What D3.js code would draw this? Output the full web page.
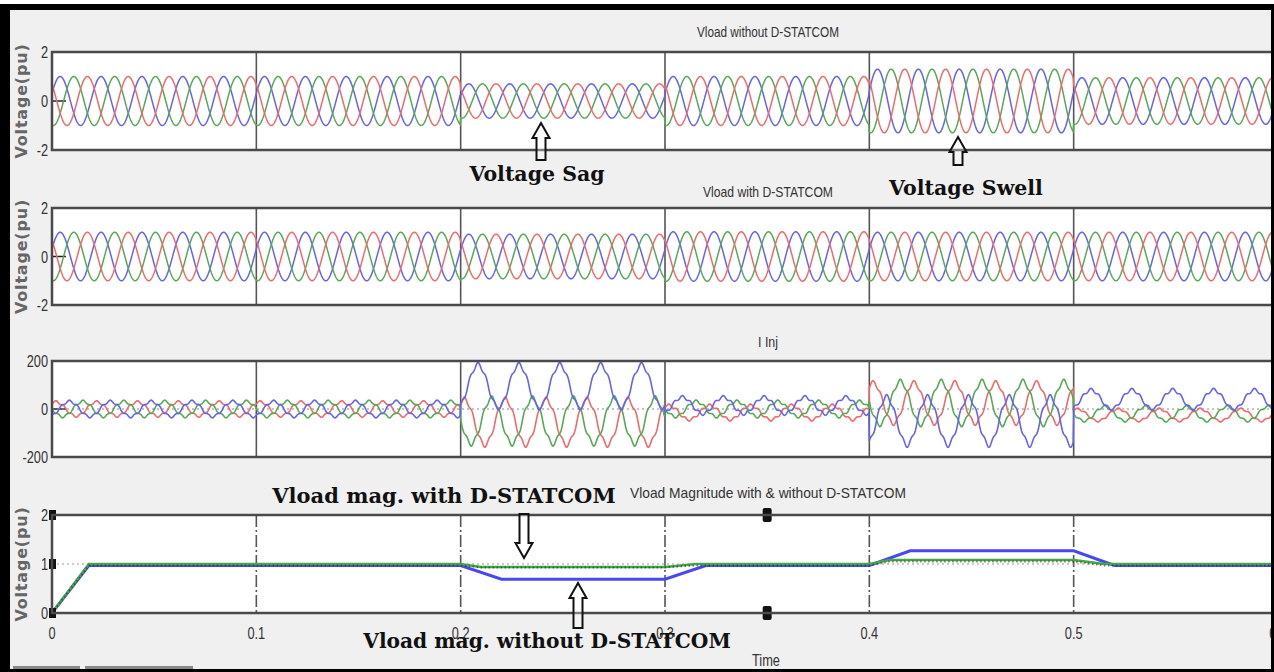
<!DOCTYPE html>
<html>
<head>
<meta charset="utf-8">
<script src="https://cdn.jsdelivr.net/npm/d3@7"></script>
<style>
body { margin: 0; background: #fff; }
.narrow { font-family: "Liberation Sans", sans-serif; fill: #333; }
.note { font-family: "DejaVu Serif", serif; font-weight: bold; fill: #111; }
.ylab { font-family: "DejaVu Sans", sans-serif; font-weight: bold; fill: #666; }
</style>
</head>
<body>
<div id="chart-area"></div>
<script>
// ---- data ----
var timeTicks = [0, 0.1, 0.2, 0.3, 0.4, 0.5, 0.6];
var timeTickLabels = ["0", "0.1", "0.2", "0.3", "0.4", "0.5", "0.6"];
var voltTicks = [-2, 0, 2];
var curTicks = [-200, 0, 200];
var magTicks = [0, 1, 2];
var titles = ["Vload without D-STATCOM", "Vload with D-STATCOM", "I Inj", "Vload Magnitude with & without D-STATCOM"];

// three phase load voltage, peak value per 0.1 s segment (pu)
var segStart = [0, 0.1, 0.2, 0.3, 0.4, 0.5];
var ampWithout = [1.0, 1.0, 0.7, 1.0, 1.3, 0.95];
var ampWith = [1.0, 1.0, 0.92, 1.02, 1.0, 1.0];
var freq = 50;            // Hz
var voltPeakTime = 0.004; // first peak of the blue phase (s)

// injected current per segment (A): mean and peak of each phase
var iStart = [0, 0.2, 0.3, 0.4, 0.5];
var iMeanBlue = [0, 95, 15, -50, 40];
var iMeanGreen = [0, -50, 0, 25, -20];
var iMeanRed = [0, -55, -15, 25, -25];
var iAmpBlue = [32, 90, 35, 100, 40];
var iAmpGreen = [32, 95, 32, 90, 30];
var iAmpRed = [30, 95, 30, 85, 25];
var iRipple = [0.15, 0.1, 0.18, 0.1, 0.15];
var curPeakTime = 0.0085;

// rms magnitude (pu)
var magTime = [0, 0.018, 0.2, 0.22, 0.3, 0.32, 0.4, 0.42, 0.5, 0.52, 0.6];
var magWithout = [0, 0.97, 0.97, 0.69, 0.69, 0.97, 0.97, 1.27, 1.27, 0.97, 0.97];
var magWithTime = [0, 0.018, 0.2, 0.21, 0.3, 0.315, 0.4, 0.41, 0.5, 0.515, 0.6];
var magWith = [0, 1.0, 1.0, 0.94, 0.94, 1.0, 1.0, 1.08, 1.08, 1.0, 1.0];
var magRef = [0, 0.97, 0.97, 0.93, 0.93, 0.97, 0.97, 1.05, 1.05, 0.97, 0.97];

var notes = ["Voltage Sag", "Voltage Swell", "Vload mag. with D-STATCOM", "Vload mag. without D-STATCOM"];

// ---- layout ----
var width = 1274, height = 672;
var left = 52, right = 1278;
var colors = { blue: "#6464f0", green: "#55aa55", red: "#f06a6a" };

var svg = d3.select("#chart-area").append("svg")
	.attr("width", width)
	.attr("height", height);

svg.append("rect").attr("width", width).attr("height", height).attr("fill", "#f0f0f0");

var x = d3.scaleLinear().domain([0, 0.6]).range([left, right]);

// squeeze a text horizontally so it looks like the scope's condensed font
function squeeze(sel, k) {
	sel.each(function() {
		var len = this.getComputedTextLength();
		d3.select(this).attr("textLength", len * k).attr("lengthAdjust", "spacingAndGlyphs");
	});
}

var panels = [
	{ top: 52, bottom: 150, domain: [-2, 2], ticks: voltTicks, titleY: 37, titleW: 142, ylab: true },
	{ top: 208, bottom: 305, domain: [-2, 2], ticks: voltTicks, titleY: 197, titleW: 130, ylab: true },
	{ top: 361, bottom: 457, domain: [-200, 200], ticks: curTicks, titleY: 347, titleW: 20, ylab: false },
	{ top: 515, bottom: 613, domain: [0, 2], ticks: magTicks, titleY: 498, titleW: 276, ylab: true }
];

panels.forEach(function(p, i) {
	p.y = d3.scaleLinear().domain(p.domain).range([p.bottom, p.top]);
	p.g = svg.append("g");
	p.g.append("rect")
		.attr("x", left).attr("y", p.top)
		.attr("width", right - left).attr("height", p.bottom - p.top)
		.attr("fill", "#fff");
	svg.append("clipPath").attr("id", "clip" + i)
		.append("rect")
		.attr("x", left).attr("y", p.top)
		.attr("width", right - left).attr("height", p.bottom - p.top);

	// vertical grid
	var grid = p.g.selectAll(".grid").data(timeTicks.slice(1, 6)).enter()
		.append("line")
		.attr("x1", function(d) { return x(d); })
		.attr("x2", function(d) { return x(d); })
		.attr("y1", p.top).attr("y2", p.bottom)
		.attr("stroke", "#555")
		.attr("stroke-width", 1.6);
	if (i == 3) grid.attr("stroke-dasharray", "12,3,2,3");

	// y tick labels
	p.g.selectAll(".yt").data(p.ticks).enter()
		.append("text")
		.attr("class", "narrow")
		.attr("x", 48)
		.attr("y", function(d) { return p.y(d) + 6; })
		.attr("text-anchor", "end")
		.attr("font-size", 17)
		.text(function(d) { return d; })
		.call(squeeze, 0.75);

	p.g.append("text")
		.attr("class", "narrow")
		.attr("x", 768).attr("y", p.titleY)
		.attr("text-anchor", "middle")
		.attr("font-size", 15)
		.attr("textLength", p.titleW)
		.attr("lengthAdjust", "spacingAndGlyphs")
		.text(titles[i]);

	if (p.ylab) {
		p.g.append("text")
			.attr("class", "ylab")
			.attr("transform", "translate(27," + ((p.top + p.bottom) / 2) + ") rotate(-90)")
			.attr("text-anchor", "middle")
			.attr("font-size", 16)
			.attr("letter-spacing", 0.8)
			.text("Voltage(pu)");
	}
	p.plot = svg.append("g").attr("clip-path", "url(#clip" + i + ")");
});

// ---- waveforms ----
var dt = 0.00025;
var samples = d3.range(0, 0.6 + dt / 2, dt);
var w = 2 * Math.PI * freq;

function segIndex(t, starts) {
	var k = d3.bisectRight(starts, t) - 1;
	return Math.max(0, Math.min(starts.length - 1, k));
}

function voltage(amps, shift) {
	return samples.map(function(t) {
		var k = segIndex(t, segStart);
		return [t, amps[k] * Math.cos(w * (t - voltPeakTime) - shift)];
	});
}

function current(means, amps, shift) {
	return samples.map(function(t) {
		var k = segIndex(t, iStart);
		var th = w * (t - curPeakTime) - shift;
		return [t, means[k] + amps[k] * (Math.cos(th) + iRipple[k] * Math.cos(5 * th))];
	});
}

var phases = [
	{ color: colors.blue, shift: 0 },
	{ color: colors.green, shift: 2 * Math.PI / 3 },
	{ color: colors.red, shift: 4 * Math.PI / 3 }
];

[ampWithout, ampWith].forEach(function(amps, i) {
	var p = panels[i];
	var line = d3.line().x(function(d) { return x(d[0]); }).y(function(d) { return p.y(d[1]); });
	phases.forEach(function(ph) {
		p.plot.append("path")
			.datum(voltage(amps, ph.shift))
			.attr("d", line)
			.attr("fill", "none")
			.attr("stroke", ph.color)
			.attr("stroke-width", 1.5);
	});
	// zero tick
	p.g.append("line").attr("x1", left).attr("x2", left + 14)
		.attr("y1", p.y(0)).attr("y2", p.y(0)).attr("stroke", "#222").attr("stroke-width", 1.5);
});

var p3 = panels[2];
p3.plot.append("line").attr("x1", left).attr("x2", right)
	.attr("y1", p3.y(0)).attr("y2", p3.y(0))
	.attr("stroke", "#888").attr("stroke-dasharray", "2,3");
var line3 = d3.line().x(function(d) { return x(d[0]); }).y(function(d) { return p3.y(d[1]); });
[[iMeanRed, iAmpRed, 2], [iMeanGreen, iAmpGreen, 1], [iMeanBlue, iAmpBlue, 0]].forEach(function(c) {
	var ph = phases[c[2]];
	p3.plot.append("path")
		.datum(current(c[0], c[1], ph.shift))
		.attr("d", line3)
		.attr("fill", "none")
		.attr("stroke", ph.color)
		.attr("stroke-width", 1.6);
});
p3.g.append("line").attr("x1", left).attr("x2", left + 14)
	.attr("y1", p3.y(0)).attr("y2", p3.y(0)).attr("stroke", "#222").attr("stroke-width", 1.5);

var p4 = panels[3];
p4.plot.append("line").attr("x1", left).attr("x2", right)
	.attr("y1", p4.y(1)).attr("y2", p4.y(1))
	.attr("stroke", "#999").attr("stroke-dasharray", "2,3");
var line4 = d3.line().x(function(d) { return x(d[0]); }).y(function(d) { return p4.y(d[1]); });
p4.plot.append("path")
	.datum(d3.zip(magTime, magWithout))
	.attr("d", line4).attr("fill", "none")
	.attr("stroke", "#4848f2").attr("stroke-width", 3);
p4.plot.append("path")
	.datum(d3.zip(magWithTime, magWith))
	.attr("d", line4).attr("fill", "none")
	.attr("stroke", "#45a845").attr("stroke-width", 2.5);
p4.plot.append("path")
	.datum(d3.zip(magWithTime, magRef))
	.attr("d", line4).attr("fill", "none")
	.attr("stroke", "#222").attr("stroke-width", 2)
	.attr("stroke-dasharray", "1.5,2.5").attr("opacity", 0.55);

// markers
magTicks.forEach(function(d) {
	svg.append("rect").attr("x", 49).attr("y", p4.y(d) - 5).attr("width", 7).attr("height", 10).attr("fill", "#111");
});
[p4.top, p4.bottom].forEach(function(yy) {
	svg.append("rect").attr("x", x(0.35) - 4.5).attr("y", yy - 7).attr("width", 9).attr("height", 14)
		.attr("rx", 2).attr("fill", "#111");
	svg.append("line").attr("x1", x(0.35) - 4.5).attr("x2", x(0.35) + 4.5)
		.attr("y1", yy).attr("y2", yy).attr("stroke", "#888").attr("stroke-width", 1.5);
});

// plot frames
panels.forEach(function(p) {
	svg.append("rect")
		.attr("x", left).attr("y", p.top)
		.attr("width", right - left).attr("height", p.bottom - p.top)
		.attr("fill", "none").attr("stroke", "#4a4a4a").attr("stroke-width", 2.5);
});

// time axis
svg.selectAll(".xt").data(timeTicks).enter()
	.append("text")
	.attr("class", "narrow")
	.attr("x", function(d) { return x(d); })
	.attr("y", 639)
	.attr("text-anchor", "middle")
	.attr("font-size", 17)
	.text(function(d, i) { return timeTickLabels[i]; })
	.call(squeeze, 0.75);
svg.append("text").attr("class", "narrow")
	.attr("x", 766).attr("y", 666).attr("text-anchor", "middle").attr("font-size", 16)
	.text("Time")
	.call(squeeze, 0.8);

// ---- annotations ----
function arrow(cx, tip, len, dir) {
	var hw = 8.5, hh = 15, sw = 4.5;
	var s = dir; // -1 points up, 1 points down
	var pts = [[cx, tip], [cx + hw, tip - s * hh], [cx + sw, tip - s * hh], [cx + sw, tip - s * len],
		[cx - sw, tip - s * len], [cx - sw, tip - s * hh], [cx - hw, tip - s * hh]];
	svg.append("path")
		.attr("d", "M" + pts.join("L") + "Z")
		.attr("fill", "#fff").attr("fill-opacity", 0.3)
		.attr("stroke", "#111").attr("stroke-width", 2);
}
arrow(541, 123, 37, -1);
arrow(958, 137, 28, -1);
arrow(524, 558, 44, 1);
arrow(578, 583, 45, -1);

var notePos = [[537, 181], [966, 195], [444, 503], [547, 648]];
var noteSize = [20.5, 20.5, 21, 20.2];
notes.forEach(function(n, i) {
	svg.append("text").attr("class", "note")
		.attr("x", notePos[i][0]).attr("y", notePos[i][1])
		.attr("text-anchor", "middle")
		.attr("font-size", noteSize[i])
		.text(n);
});

// outer frame
svg.append("rect").attr("x", 0).attr("y", 4).attr("width", 10).attr("height", height - 4).attr("fill", "#000");
svg.append("rect").attr("x", 0).attr("y", 4).attr("width", width).attr("height", 6).attr("fill", "#000");
svg.append("rect").attr("x", 1271).attr("y", 4).attr("width", 3).attr("height", height - 4).attr("fill", "#000");
svg.append("rect").attr("x", 0).attr("y", 669).attr("width", width).attr("height", 3).attr("fill", "#000");
svg.append("rect").attr("x", 0).attr("y", 0).attr("width", width).attr("height", 4).attr("fill", "#fff");
svg.append("rect").attr("x", 13).attr("y", 666).attr("width", 67).attr("height", 3).attr("fill", "#8a8a8a");
svg.append("rect").attr("x", 85).attr("y", 666).attr("width", 108).attr("height", 3).attr("fill", "#8a8a8a");
</script>
</body>
</html>
